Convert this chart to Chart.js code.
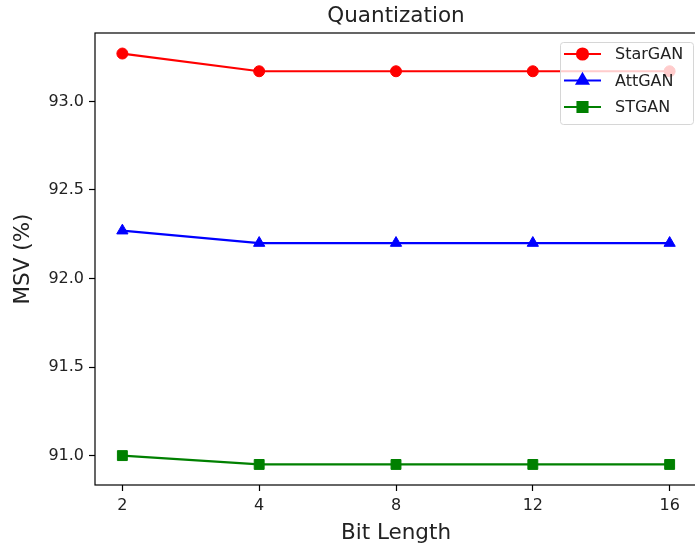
<!DOCTYPE html>
<html>
<head>
<meta charset="utf-8">
<script src="https://cdn.jsdelivr.net/npm/chart.js@4/dist/chart.umd.min.js"></script>
<style>
  html, body { margin: 0; padding: 0; background: #fff; overflow: hidden; }
  #wrap { width: 695px; height: 546px; overflow: hidden; }
  #box { width: 705px; height: 546px; }
</style>
</head>
<body>
<div id="wrap"><div id="box"><canvas id="chart"></canvas></div></div>
<script>
// Werte
const bitLaengen = ['2', '4', '8', '12', '16'];
const starGAN = [93.27, 93.17, 93.17, 93.17, 93.17];
const attGAN = [92.27, 92.20, 92.20, 92.20, 92.20];
const stGAN = [91.00, 90.95, 90.95, 90.95, 90.95];
const yTicks = [91.0, 91.5, 92.0, 92.5, 93.0];

const FONT = "'DejaVu Sans', sans-serif";
const TITEL = 'Quantization';

const serien = [
  { label: 'StarGAN', werte: starGAN, farbe: '#ff0000', punkt: 'circle', r: 5.5 },
  { label: 'AttGAN', werte: attGAN, farbe: '#0000ff', punkt: 'triangle', r: 6.5 },
  { label: 'STGAN', werte: stGAN, farbe: '#008000', punkt: 'rect', r: 7 },
];

// matplotlib-artige Achsengrenzen: 5 % Rand
const alle = [...starGAN, ...attGAN, ...stGAN];
const yLo = Math.min(...alle), yHi = Math.max(...alle);
const yPad = (yHi - yLo) * 0.05;
const xPad = (bitLaengen.length - 1) * 0.05;

// Titel über der Plotfläche zentriert, Rahmen (alle vier Spines), Legende oben rechts
const rahmenUndLegende = {
  id: 'rahmenUndLegende',
  afterDatasetsDraw(chart) {
    const { ctx, chartArea: a } = chart;
    ctx.save();
    ctx.strokeStyle = '#000';
    ctx.lineWidth = 1.2;
    ctx.strokeRect(a.left, a.top, a.right - a.left, a.bottom - a.top);
    ctx.fillStyle = '#222';
    ctx.font = '21.5px ' + FONT;
    ctx.textAlign = 'center';
    ctx.textBaseline = 'alphabetic';
    ctx.fillText(TITEL, (a.left + a.right) / 2, 21.5);
    ctx.restore();
  },
  afterDraw(chart) {
    const { ctx } = chart;
    const x0 = 560, y0 = 42, w = 133, h = 82;
    ctx.save();
    ctx.beginPath();
    ctx.roundRect(x0 + 0.5, y0 + 0.5, w, h, 3);
    ctx.fillStyle = 'rgba(255,255,255,0.8)';
    ctx.fill();
    ctx.strokeStyle = '#d6d6d6';
    ctx.lineWidth = 1;
    ctx.stroke();
    serien.forEach((s, i) => {
      const y = 54 + i * 26.5;
      ctx.beginPath();
      ctx.moveTo(564, y);
      ctx.lineTo(601, y);
      ctx.strokeStyle = s.farbe;
      ctx.lineWidth = 2.2;
      ctx.stroke();
      ctx.fillStyle = s.farbe;
      ctx.strokeStyle = s.farbe;
      Chart.helpers.drawPoint(ctx, { pointStyle: s.punkt, radius: s.r, rotation: 0, borderWidth: 1 }, 582.5, y);
      ctx.fillStyle = '#222';
      ctx.font = '16px ' + FONT;
      ctx.textBaseline = 'middle';
      ctx.fillText(s.label, 615, y + 1);
    });
    ctx.restore();
  }
};

new Chart(document.getElementById('chart'), {
  type: 'line',
  data: {
    datasets: serien.map(s => ({
      label: s.label,
      data: s.werte.map((v, i) => ({ x: i, y: v })),
      borderColor: s.farbe,
      backgroundColor: s.farbe,
      borderWidth: 2.2,
      pointStyle: s.punkt,
      pointRadius: s.r,
      pointHoverRadius: s.r,
      pointBorderWidth: 1,
      tension: 0,
    })),
  },
  options: {
    responsive: true,
    maintainAspectRatio: false,
    animation: false,
    events: [],
    layout: { padding: { left: 0, right: 3, top: 33, bottom: 0 } },
    plugins: {
      legend: { display: false },
      tooltip: { enabled: false },
      title: { display: false },
    },
    scales: {
      x: {
        type: 'linear',
        min: -xPad,
        max: bitLaengen.length - 1 + xPad,
        afterFit: (s) => { s.height = 61; },
        afterBuildTicks: (s) => { s.ticks = bitLaengen.map((_, i) => ({ value: i })); },
        ticks: {
          callback: (v) => bitLaengen[v],
          color: '#222',
          font: { family: FONT, size: 16 },
          padding: 5,
          maxRotation: 0,
          autoSkip: false,
        },
        grid: { display: true, drawOnChartArea: false, tickLength: 6, color: '#000', tickWidth: 1.2 },
        border: { display: false },
        title: {
          display: true,
          text: 'Bit Length',
          color: '#222',
          font: { family: FONT, size: 21.5 },
          padding: { top: 3.5, bottom: 0 },
        },
      },
      y: {
        type: 'linear',
        min: yLo - yPad,
        max: yHi + yPad,
        afterFit: (s) => { s.width = 95; },
        afterBuildTicks: (s) => { s.ticks = yTicks.map(v => ({ value: v })); },
        ticks: {
          callback: (v) => v.toFixed(1),
          color: '#222',
          font: { family: FONT, size: 16 },
          padding: 5,
        },
        grid: { display: true, drawOnChartArea: false, tickLength: 6, color: '#000', tickWidth: 1.2 },
        border: { display: false },
        title: {
          display: true,
          text: 'MSV (%)',
          color: '#222',
          font: { family: FONT, size: 21.5 },
          padding: { top: 11, bottom: 0 },
        },
      },
    },
  },
  plugins: [rahmenUndLegende],
});
</script>
</body>
</html>
